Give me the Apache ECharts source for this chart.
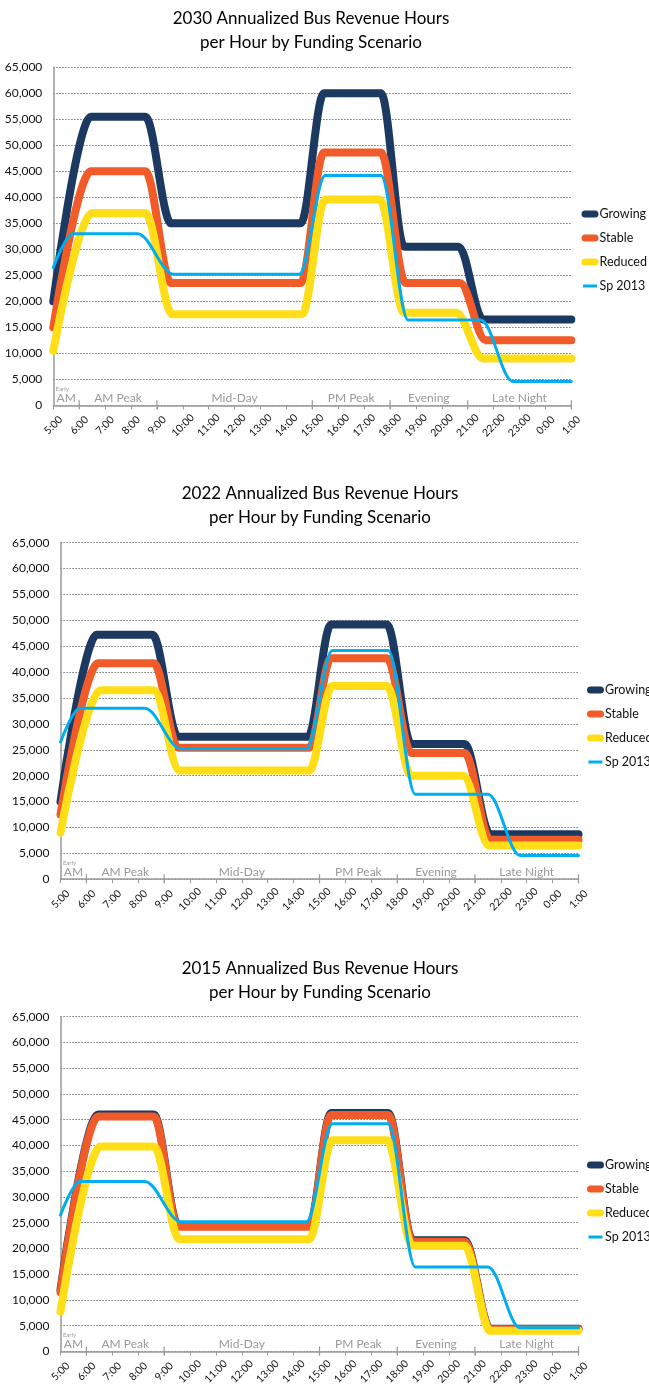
<!DOCTYPE html>
<html>
<head>
<meta charset="utf-8">
<script src="https://cdn.jsdelivr.net/npm/echarts@6/dist/echarts.min.js"></script>
<style>
  html, body { margin: 0; padding: 0; background: #fff; }
  #chart { width: 649px; height: 1387px; }
</style>
</head>
<body>
<div id="chart"></div>
<script>
// Hour of day on the x axis (5:00 through 1:00 the next morning, as hours 5..25)
const hourLabels = ['5:00', '6:00', '7:00', '8:00', '9:00', '10:00', '11:00', '12:00', '13:00', '14:00',
  '15:00', '16:00', '17:00', '18:00', '19:00', '20:00', '21:00', '22:00', '23:00', '0:00', '1:00'];

// Service periods along the day
const periodBounds = [5, 6, 9, 15, 18, 21, 25];
const periodNames = ['AM', 'AM Peak', 'Mid-Day', 'PM Peak', 'Evening', 'Late Night'];
const periodNotes = ['Early', '', '', '', '', ''];

const scenarioNames = ['Growing', 'Stable', 'Reduced', 'Sp 2013'];
const years = ['2030', '2022', '2015'];

// Annualized revenue hours per hour, as [hour, value] pairs
const sp2013 = [[5, 26500], [5.75, 33000], [8.25, 33000], [9.65, 25200], [14.5, 25200], [15.5, 44200],
  [17.65, 44200], [18.7, 16400], [21.5, 16400], [22.75, 4600], [25, 4600]];

const growing2030 = [[5, 20000], [6.45, 55500], [8.55, 55500], [9.55, 35000], [14.55, 35000], [15.45, 60000],
  [17.65, 60000], [18.55, 30500], [20.65, 30500], [21.6, 16500], [25, 16500]];
const stable2030 = [[5, 15000], [6.45, 45000], [8.55, 45000], [9.55, 23500], [14.55, 23500], [15.45, 48600],
  [17.65, 48600], [18.6, 23500], [20.7, 23500], [21.7, 12500], [25, 12500]];
const reduced2030 = [[5, 10500], [6.5, 37000], [8.55, 37000], [9.6, 17500], [14.6, 17500], [15.5, 39600],
  [17.6, 39600], [18.55, 17800], [20.55, 17800], [21.6, 9000], [25, 9000]];

const growing2022 = [[5, 15000], [6.4, 47200], [8.55, 47200], [9.55, 27500], [14.55, 27500], [15.45, 49200],
  [17.6, 49200], [18.55, 26100], [20.6, 26100], [21.6, 8700], [25, 8700]];
const stable2022 = [[5, 12500], [6.45, 41700], [8.6, 41700], [9.55, 25400], [14.6, 25400], [15.45, 42700],
  [17.6, 42700], [18.55, 24400], [20.6, 24400], [21.6, 7600], [25, 7600]];
const reduced2022 = [[5, 9000], [6.55, 36500], [8.6, 36500], [9.6, 21000], [14.6, 21000], [15.5, 37300],
  [17.6, 37300], [18.55, 20000], [20.55, 20000], [21.55, 6500], [25, 6500]];

const growing2015 = [[5, 12000], [6.45, 46000], [8.6, 46000], [9.55, 24500], [14.6, 24500], [15.45, 46300],
  [17.65, 46300], [18.6, 21600], [20.6, 21600], [21.6, 4400], [25, 4400]];
const stable2015 = [[5, 11500], [6.45, 45600], [8.6, 45600], [9.55, 24200], [14.6, 24200], [15.45, 45900],
  [17.65, 45900], [18.6, 21300], [20.6, 21300], [21.6, 4300], [25, 4300]];
const reduced2015 = [[5, 7800], [6.55, 39800], [8.6, 39800], [9.6, 21800], [14.6, 21800], [15.5, 41000],
  [17.6, 41000], [18.6, 20500], [20.6, 20500], [21.6, 4000], [25, 4000]];

const seriesByYear = [
  [growing2030, stable2030, reduced2030, sp2013],
  [growing2022, stable2022, reduced2022, sp2013],
  [growing2015, stable2015, reduced2015, sp2013]
];

const colors = ['#1c3962', '#f15a29', '#ffde17', '#00aeef'];
const FONT = 'Lato, "Open Sans", sans-serif';

// Layout of the three stacked panels
const panels = [
  { grid: { left: 53.3, top: 67.3, width: 518, height: 338 }, titleX: 311, titleTop: 7, legendX: 581.5, legendTop: 207 },
  { grid: { left: 60.5, top: 542.7, width: 518, height: 336.5 }, titleX: 320, titleTop: 482, legendX: 587, legendTop: 683 },
  { grid: { left: 60.5, top: 1016.7, width: 518, height: 337.3 }, titleX: 320, titleTop: 957, legendX: 587, legendTop: 1158 }
];

const pillIcon = 'path://M3.5,0 H13.5 A3.5,3.5 0 0 1 13.5,7 H3.5 A3.5,3.5 0 0 1 3.5,0 Z';
const thinIcon = 'path://M0,0 M1.5,2 H15.5 V5 H1.5 Z M17,7';

// Period separators and names drawn just above the time axis
function renderPeriods(params, api) {
  const i = params.dataIndex;
  const a = api.coord([api.value(0), 0]);
  const b = api.coord([api.value(1), 0]);
  const children = [];
  const tick = (x) => ({
    type: 'line',
    shape: { x1: x, y1: a[1] - 5, x2: x, y2: a[1] + 4 },
    style: { stroke: '#9a9a9a', lineWidth: 1.2 }
  });
  if (i > 0) children.push(tick(a[0]));
  if (i === periodNames.length - 1) children.push(tick(b[0]));
  const cx = (a[0] + b[0]) / 2;
  children.push({
    type: 'text',
    style: { text: periodNames[i], x: cx, y: a[1] - 7, align: 'center', verticalAlign: 'middle',
      fill: '#999', font: '12px ' + FONT }
  });
  if (periodNotes[i]) {
    children.push({
      type: 'text',
      style: { text: periodNotes[i], x: cx - 4, y: a[1] - 16.5, align: 'center', verticalAlign: 'middle',
        fill: '#999', font: '6px ' + FONT }
    });
  }
  return { type: 'group', children };
}

const option = {
  animation: false,
  backgroundColor: '#fff',
  title: panels.map((p, k) => ({
    text: years[k] + ' Annualized Bus Revenue Hours\nper Hour by Funding Scenario',
    left: p.titleX, top: p.titleTop, textAlign: 'center', padding: 0,
    textStyle: { fontFamily: FONT, fontSize: 17, fontWeight: 'normal', color: '#000', lineHeight: 24 }
  })),
  legend: panels.map((p) => ({
    orient: 'vertical', left: p.legendX, top: p.legendTop, padding: 0,
    itemWidth: 17, itemHeight: 7, itemGap: 10, selectedMode: false,
    textStyle: { fontFamily: FONT, fontSize: 12.5, color: '#111', lineHeight: 14, padding: [0, 0, 0, -4] },
    data: scenarioNames.map((n, k) => ({ name: n, icon: k < 3 ? pillIcon : thinIcon, itemStyle: { color: colors[k] } }))
  })),
  grid: panels.map((p) => p.grid),
  xAxis: panels.map((p, k) => ({
    type: 'value', gridIndex: k, min: 5, max: 25, interval: 1,
    axisLine: { lineStyle: { color: '#9a9a9a', width: 1.5 } },
    axisTick: { show: true, length: 4, lineStyle: { color: '#9a9a9a', width: 1 } },
    splitLine: { show: false },
    axisLabel: {
      rotate: 45, align: 'center', verticalAlign: 'middle', margin: 20,
      fontFamily: FONT, fontSize: 10.5, color: '#111',
      formatter: (v) => hourLabels[Math.round(v - 5)]
    }
  })),
  yAxis: panels.map((p, k) => ({
    type: 'value', gridIndex: k, min: 0, max: 65000, interval: 5000,
    axisLine: { show: true, lineStyle: { color: '#9a9a9a', width: 1.5 } },
    axisTick: { show: false },
    splitLine: { show: true, lineStyle: { color: '#555', width: 1.2, type: [1.2, 1.8] } },
    axisLabel: { margin: 11, fontFamily: FONT, fontSize: 12, color: '#111' }
  })),
  series: []
};

seriesByYear.forEach((list, k) => {
  list.forEach((data, s) => {
    option.series.push({
      type: 'line', name: scenarioNames[s], xAxisIndex: k, yAxisIndex: k,
      data: data, showSymbol: false, symbol: 'none',
      smooth: 0.35, smoothMonotone: 'x',
      lineStyle: { color: colors[s], width: s < 3 ? 8 : 3, cap: 'round', join: 'round' },
      itemStyle: { color: colors[s] },
      emphasis: { disabled: true }, silent: true
    });
  });
  option.series.push({
    type: 'custom', xAxisIndex: k, yAxisIndex: k, silent: true, clip: false,
    data: periodNames.map((n, i) => [periodBounds[i], periodBounds[i + 1], 0]),
    encode: { x: [0, 1], y: 2 },
    renderItem: renderPeriods, z: 5
  });
});

const chart = echarts.init(document.getElementById('chart'), null, { renderer: 'canvas' });
chart.setOption(option);
</script>
</body>
</html>
